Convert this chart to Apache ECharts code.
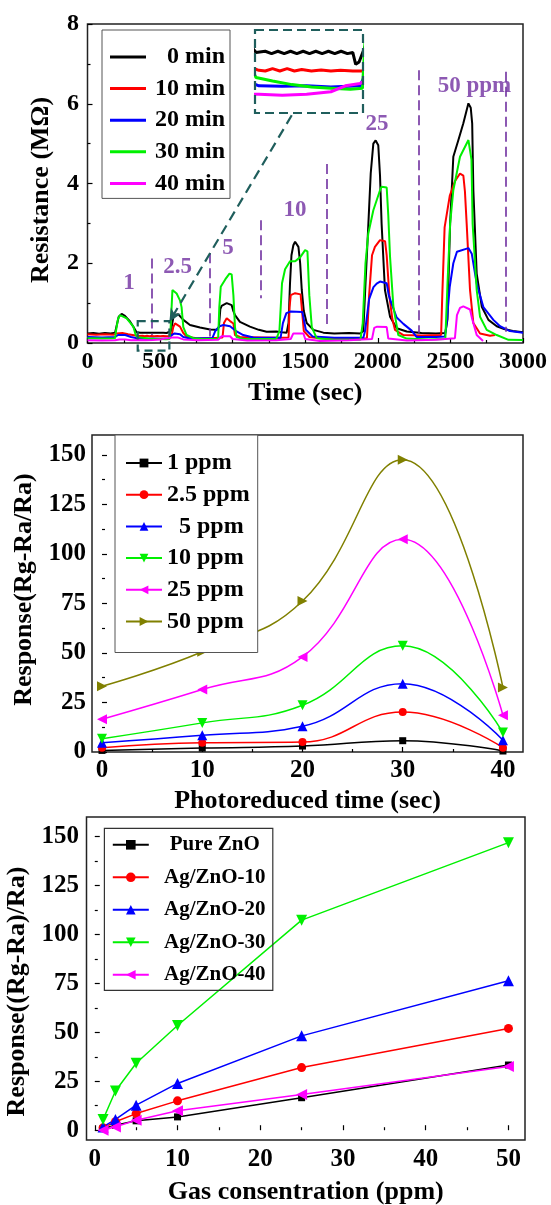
<!DOCTYPE html>
<html>
<head>
<meta charset="utf-8">
<title>Ag/ZnO gas sensor</title>
<script src="https://cdn.jsdelivr.net/npm/echarts@6/dist/echarts.min.js"></script>
<style>
  html, body { margin: 0; padding: 0; background: #fff; }
  #main { width: 551px; height: 1205px; }
</style>
</head>
<body>
<div id="main"></div>
<script>
// ---------- panel 1 : resistance (MOhm) vs time (sec) ----------
var traceNames = ['0 min', '10 min', '20 min', '30 min', '40 min'];
var traceColors = ['#000000', '#ff0000', '#0000ff', '#00f000', '#ff00ff'];

var trace0 = [[0,0.24],[40,0.25],[80,0.23],[120,0.25],[160,0.24],[190,0.26],[205,0.5],[215,0.66],[235,0.73],[258,0.68],[293,0.54],[320,0.38],[338,0.27],[346,0.25],
  [365,0.255],[378,0.245],[391,0.255],[404,0.245],[417,0.255],[430,0.245],[443,0.255],[456,0.245],[469,0.255],[482,0.245],[495,0.255],[508,0.245],[521,0.255],[534,0.245],[545,0.25],[551,0.2],[558,0.21],
  [575,0.3],[590,0.62],[605,0.70],[626,0.72],[660,0.58],[706,0.45],[775,0.39],[844,0.34],[890,0.33],[905,0.4],[915,0.85],[924,0.93],[959,1.0],[993,0.95],[1005,0.8],
  [1016,0.70],[1050,0.53],[1119,0.41],[1180,0.33],[1234,0.28],[1300,0.29],[1340,0.27],[1372,0.26],[1385,0.5],[1395,1.5],[1405,2.2],[1418,2.45],[1430,2.54],[1453,2.41],
  [1465,2.0],[1476,1.33],[1490,0.8],[1510,0.5],[1556,0.33],[1625,0.26],[1700,0.24],[1800,0.25],[1880,0.24],[1900,0.3],[1915,1.5],[1935,3.0],[1951,4.25],[1969,5.0],
  [1985,5.08],[2003,4.96],[2015,4.2],[2026,2.99],[2049,1.33],[2084,0.66],[2130,0.37],[2199,0.29],[2300,0.25],[2400,0.24],[2465,0.25],[2480,0.6],[2490,2.0],[2498,2.99],
  [2520,4.67],[2555,5.09],[2589,5.51],[2624,6.01],[2640,5.9],[2650,5.5],[2658,3.83],[2681,1.74],[2716,0.91],[2762,0.58],[2819,0.42],[2870,0.35],[2930,0.3],[3000,0.27]];

var trace10 = [[0,0.22],[60,0.21],[120,0.22],[180,0.21],[200,0.24],[240,0.25],[280,0.22],[330,0.19],[352,0.175],
  [365,0.172],[380,0.182],[395,0.172],[410,0.182],[425,0.172],[440,0.178],[460,0.172],[480,0.176],[500,0.172],[520,0.175],[545,0.172],[565,0.172],
  [580,0.2],[591,0.4],[603,0.49],[614,0.45],[637,0.41],[660,0.25],[683,0.16],[752,0.12],[850,0.12],[930,0.14],[940,0.5],[959,0.62],[982,0.55],[1005,0.49],
  [1016,0.2],[1050,0.15],[1200,0.14],[1330,0.13],[1385,0.14],[1392,0.9],[1400,1.2],[1430,1.25],[1468,1.22],[1478,0.8],[1490,0.3],[1528,0.15],[1600,0.12],
  [1800,0.11],[1925,0.12],[1940,1.2],[1960,2.2],[1980,2.41],[2015,2.58],[2050,2.55],[2061,2.2],[2080,1.16],[2100,0.6],[2118,0.33],[2176,0.2],[2300,0.19],
  [2436,0.2],[2444,1.2],[2460,2.9],[2496,3.7],[2530,4.05],[2566,4.25],[2589,4.2],[2600,3.8],[2612,2.99],[2635,1.33],[2658,0.5],[2704,0.24],[2773,0.18],[2807,0.2]];

var trace20 = [[0,0.15],[100,0.14],[190,0.15],[210,0.2],[260,0.2],[300,0.15],[352,0.11],[400,0.108],[450,0.11],[500,0.105],[560,0.11],[580,0.2],[600,0.24],
  [637,0.22],[660,0.15],[700,0.12],[860,0.12],[880,0.3],[910,0.42],[936,0.45],[982,0.42],[1027,0.29],[1073,0.2],[1142,0.14],[1330,0.13],[1346,0.5],[1370,0.75],
  [1400,0.79],[1480,0.78],[1495,0.5],[1504,0.33],[1552,0.16],[1700,0.13],[1900,0.13],[1912,0.3],[1940,1.1],[1970,1.4],[1992,1.49],[2015,1.54],[2061,1.5],
  [2075,1.2],[2095,0.98],[2130,0.64],[2176,0.48],[2233,0.31],[2268,0.15],[2400,0.15],[2462,0.16],[2474,0.5],[2495,1.4],[2520,2.0],[2545,2.29],[2624,2.38],
  [2647,2.24],[2681,1.49],[2727,0.9],[2796,0.58],[2842,0.42],[2910,0.3],[3000,0.26]];

var trace30 = [[0,0.12],[100,0.11],[190,0.12],[196,0.3],[210,0.6],[224,0.70],[235,0.73],[270,0.62],[316,0.41],[332,0.2],[346,0.145],[380,0.13],[420,0.115],
  [460,0.105],[500,0.1],[540,0.095],[565,0.1],[573,0.4],[585,1.33],[591,1.3],[614,1.24],[637,1.07],[648,0.9],[660,0.4],[683,0.2],[729,0.12],[800,0.1],[900,0.1],
  [908,0.9],[918,1.41],[950,1.6],[978,1.74],[993,1.72],[1005,1.2],[1016,0.4],[1027,0.15],[1073,0.1],[1300,0.1],[1322,0.3],[1340,1.5],[1361,1.85],[1395,2.05],
  [1431,2.05],[1467,2.16],[1499,2.33],[1515,2.3],[1528,1.2],[1545,0.4],[1579,0.12],[1700,0.08],[1880,0.08],[1896,0.5],[1915,2.0],[1934,2.74],[1969,3.33],
  [2015,3.83],[2026,3.92],[2061,3.9],[2072,3.2],[2084,2.17],[2107,0.92],[2141,0.2],[2199,0.11],[2350,0.09],[2465,0.1],[2480,1.5],[2498,2.99],[2520,3.83],
  [2566,4.67],[2624,5.09],[2635,5.13],[2645,4.6],[2653,2.99],[2681,1.33],[2704,0.66],[2750,0.33],[2819,0.2],[2900,0.08],[3000,0.075]];

var trace40 = [[0,0.07],[100,0.065],[190,0.07],[220,0.09],[260,0.09],[300,0.07],[352,0.075],[400,0.07],[450,0.075],[500,0.085],[530,0.11],[560,0.12],
  [580,0.14],[620,0.14],[660,0.09],[760,0.07],[900,0.08],[924,0.17],[982,0.17],[1000,0.1],[1100,0.06],[1300,0.07],[1400,0.1],[1418,0.24],[1487,0.24],
  [1500,0.1],[1600,0.05],[1800,0.07],[1960,0.1],[1975,0.38],[1995,0.41],[2061,0.4],[2072,0.11],[2200,0.06],[2400,0.08],[2531,0.12],[2545,0.7],[2566,0.88],
  [2589,0.92],[2635,0.84],[2650,0.6],[2681,0.2],[2725,0.05]];

var traces = [trace0, trace10, trace20, trace30, trace40];

// gas injection markers: time, top, bottom (MOhm)
var gasMarkTime = [446, 843, 1194, 1649, 2279, 2884];
var gasMarkTop = [2.12, 2.25, 3.08, 4.49, 6.84, 6.8];
var gasMarkBottom = [0.2, 0.16, 1.12, 0.37, 0.24, 0.28];
var concText = ['1', '2.5', '5', '10', '25', '50 ppm'];
var concTextAt = [[286, 1.51], [620, 1.91], [968, 2.37], [1430, 3.33], [1994, 5.49], [2666, 6.44]];
// zoomed window shown in the inset
var zoomTime = [346, 564];
var zoomRes = [-0.19, 0.55];
var insetRes = [0, 0.34];

// ---------- panel 2 : response vs photoreduced time ----------
var photoTime = [0, 10, 20, 30, 40];
var concNames = ['1 ppm', '2.5 ppm', '5 ppm', '10 ppm', '25 ppm', '50 ppm'];
var resp1 = [0.8, 2.0, 3.0, 5.7, 0.5];
var resp2p5 = [2.2, 4.7, 5.0, 20.2, 2.2];
var resp5 = [4.7, 8.4, 13.0, 34.5, 5.9];
var resp10 = [6.7, 14.7, 23.6, 53.6, 9.8];
var resp25 = [16.5, 31.5, 48.0, 107.4, 18.5];
var resp50 = [33.2, 50.6, 76.2, 147.5, 32.5];
var respByConc = [resp1, resp2p5, resp5, resp10, resp25, resp50];

// ---------- panel 3 : response vs gas concentration ----------
var gasConc = [1, 2.5, 5, 10, 25, 50];
var sampleNames = ['Pure ZnO', 'Ag/ZnO-10', 'Ag/ZnO-20', 'Ag/ZnO-30', 'Ag/ZnO-40'];
var pureZnO = [0.9, 2.6, 4.8, 6.8, 16.6, 33.3];
var agZnO10 = [1.2, 4.3, 8.5, 15.0, 32.0, 52.0];
var agZnO20 = [1.7, 5.5, 12.8, 23.9, 48.2, 76.4];
var agZnO30 = [5.5, 20.0, 34.2, 53.5, 107.3, 146.9];
var agZnO40 = [0.0, 1.7, 5.1, 9.9, 18.3, 32.5];
var respBySample = [pureZnO, agZnO10, agZnO20, agZnO30, agZnO40];

// ticks
var timeTicks = [0, 10, 20, 30, 40];
var timeMinor = [5, 15, 25, 35];
var concTicks = [0, 10, 20, 30, 40, 50];
var concMinor = [5, 15, 25, 35, 45];
var respTicks = [0, 25, 50, 75, 100, 125, 150];
var respMinor = [12.5, 37.5, 62.5, 87.5, 112.5, 137.5];

// ---------- chart ----------
var FONT = '"Liberation Serif", "Times New Roman", serif';
var PURPLE = '#7030a0';
var TEAL = '#1f5e5c';
var markerColors = ['#000000', '#ff0000', '#0000ff', '#00f000', '#ff00ff', '#808000'];
var markerSymbol = ['rect', 'circle', 'triangle', 'triangle', 'triangle', 'triangle'];
var markerRotate = [0, 0, 0, 180, 90, -90];

function txt(size, extra) {
    var s = { fontFamily: FONT, fontWeight: 'bold', fontSize: size, color: '#000' };
    for (var k in extra) s[k] = extra[k];
    return s;
}
function zip(xs, ys) {
    return xs.map(function (x, i) { return [x, ys[i]]; });
}
function plain(v) { return String(v); }

var tickStyle = { inside: true, length: 5, lineStyle: { color: '#000', width: 1.2 } };
var gridBorder = { show: true, borderColor: '#222', borderWidth: 1.5, outerBoundsMode: 'none' };

function mainAxis(grid, min, max, name, gap, labelSize, margin, extra) {
    var a = {
        type: 'value', gridIndex: grid, min: min, max: max,
        name: name, nameLocation: 'middle', nameGap: gap,
        nameTextStyle: txt(26),
        axisLine: { show: false },
        axisTick: JSON.parse(JSON.stringify(tickStyle)),
        axisLabel: txt(labelSize, { margin: margin, formatter: plain }),
        splitLine: { show: false }
    };
    for (var k in extra) a[k] = extra[k];
    return a;
}
function minorAxis(grid, min, max, values, pos) {
    return {
        type: 'value', gridIndex: grid, min: min, max: max, position: pos,
        axisLine: { show: false }, axisLabel: { show: false }, splitLine: { show: false },
        axisTick: { inside: true, length: 3, customValues: values, lineStyle: { color: '#000', width: 1.2 } }
    };
}

var xAxes = [
    mainAxis(0, 0, 3000, 'Time (sec)', 37, 24, 7, {
        interval: 500,
        minorTick: { show: true, splitNumber: 2, length: 3, lineStyle: { color: '#000', width: 1.2 } }
    }),
    mainAxis(1, -1, 42, 'Photoreduced time (sec)', 36, 25, 6, {}),
    mainAxis(2, -1, 52, 'Gas consentration (ppm)', 39, 25, 7, {}),
    { type: 'value', gridIndex: 3, min: zoomTime[0], max: zoomTime[1], show: false },
    minorAxis(1, -1, 42, timeMinor, 'bottom'),
    minorAxis(2, -1, 52, concMinor, 'bottom')
];
xAxes[1].axisLabel.customValues = timeTicks;
xAxes[1].axisTick.customValues = timeTicks;
xAxes[2].axisLabel.customValues = concTicks;
xAxes[2].axisTick.customValues = concTicks;

var yAxes = [
    mainAxis(0, 0, 8, 'Resistance (M\u03A9)', 33, 24, 8.5, {
        interval: 2,
        minorTick: { show: true, splitNumber: 2, length: 3, lineStyle: { color: '#000', width: 1.2 } }
    }),
    mainAxis(1, 0, 160, 'Response(Rg-Ra/Ra)', 54, 25, 6, {}),
    mainAxis(2, -5, 160, 'Response((Rg-Ra)/Ra)', 51.5, 25, 7.5, {}),
    { type: 'value', gridIndex: 3, min: insetRes[0], max: insetRes[1], show: false },
    minorAxis(1, 0, 160, respMinor, 'left'),
    minorAxis(2, -5, 160, respMinor, 'left')
];
yAxes[0].nameTextStyle.padding = [0, 13, 0, 0];
yAxes[1].nameTextStyle.padding = [0, 0, 0, 8];
yAxes[2].nameTextStyle.padding = [0, 26, 0, 0];
yAxes[1].axisLabel.customValues = respTicks;
yAxes[1].axisTick.customValues = respTicks;
yAxes[2].axisLabel.customValues = respTicks;
yAxes[2].axisTick.customValues = respTicks;

var series = [];
// panel 1 main traces
traces.forEach(function (d, i) {
    series.push({
        name: traceNames[i], type: 'line', xAxisIndex: 0, yAxisIndex: 0,
        data: d, symbol: 'none', showSymbol: false,
        lineStyle: { color: traceColors[i], width: 2 },
        itemStyle: { color: traceColors[i] }
    });
});
// panel 1 inset: same traces through zoomed axes
traces.forEach(function (d, i) {
    series.push({
        name: traceNames[i], type: 'line', xAxisIndex: 3, yAxisIndex: 3,
        data: d, symbol: 'none', showSymbol: false, clip: true,
        lineStyle: { color: traceColors[i], width: 3 },
        itemStyle: { color: traceColors[i] }
    });
});
// panel 1 annotations
var markLines = gasMarkTime.map(function (t, i) {
    return [{ coord: [t, gasMarkTop[i]] }, { coord: [t, gasMarkBottom[i]] }];
});
markLines.push([
    { coord: [1407, 5.71], lineStyle: { color: TEAL, width: 2.2, type: [10, 6] } },
    { coord: [zoomTime[1], zoomRes[1] - 0.02], symbol: 'arrow', symbolSize: [9, 13] }
]);
series.push({
    name: 'conc', type: 'scatter', xAxisIndex: 0, yAxisIndex: 0, silent: true,
    data: concTextAt.map(function (p, i) { return [p[0], p[1], concText[i]]; }),
    symbolSize: 1, itemStyle: { color: 'rgba(0,0,0,0)' },
    label: {
        show: true, position: 'inside',
        formatter: function (p) { return p.value[2]; },
        fontFamily: FONT, fontWeight: 'bold', fontSize: 23, color: PURPLE
    },
    markLine: {
        silent: true, symbol: ['none', 'none'], label: { show: false },
        lineStyle: { color: PURPLE, width: 1.6, type: [10, 5] },
        data: markLines
    }
});
// panel 2
respByConc.forEach(function (d, i) {
    series.push({
        name: concNames[i], type: 'line', xAxisIndex: 1, yAxisIndex: 1,
        data: zip(photoTime, d), smooth: 0.45,
        symbol: markerSymbol[i], symbolRotate: markerRotate[i],
        symbolSize: i === 0 ? 7 : (i === 1 ? 8 : 10),
        lineStyle: { color: markerColors[i], width: 1.5 },
        itemStyle: { color: markerColors[i] }
    });
});
// panel 3
respBySample.forEach(function (d, i) {
    series.push({
        name: sampleNames[i], type: 'line', xAxisIndex: 2, yAxisIndex: 2,
        data: zip(gasConc, d),
        symbol: markerSymbol[i], symbolRotate: markerRotate[i],
        symbolSize: i === 0 ? 7 : (i === 1 ? 9 : 11),
        lineStyle: { color: markerColors[i], width: 1.5 },
        itemStyle: { color: markerColors[i] }
    });
});

var option = {
    animation: false,
    backgroundColor: '#fff',
    grid: [
        Object.assign({ left: 87.5, top: 24, width: 435.5, height: 319 }, gridBorder),
        Object.assign({ left: 92, top: 435, width: 431, height: 317 }, gridBorder),
        Object.assign({ left: 86.5, top: 817, width: 438.5, height: 323 }, gridBorder),
        { left: 256, top: 31, width: 106, height: 81, show: false, outerBoundsMode: 'none' }
    ],
    xAxis: xAxes,
    yAxis: yAxes,
    legend: [
        {
            data: traceNames, orient: 'vertical', left: 102, top: 30,
            padding: [15, 5, 3, 8], itemGap: 7.6, itemWidth: 36, itemHeight: 3, icon: 'rect',
            borderColor: '#555', borderWidth: 1, backgroundColor: '#fff',
            formatter: function (n) { return '{r|' + n + '}'; },
            textStyle: txt(24, { lineHeight: 24, rich: { r: txt(24, { width: 74, align: 'right', lineHeight: 24 }) } })
        },
        {
            data: concNames, orient: 'vertical', left: 115, top: 435,
            padding: [16, 8, 19, 10], itemGap: 7.7, itemWidth: 36, itemHeight: 11,
            borderColor: '#555', borderWidth: 1, backgroundColor: '#fff',
            formatter: function (n) { return n === '5 ppm' ? '{i|' + n + '}' : n; },
            textStyle: txt(24, { lineHeight: 24, rich: { i: txt(24, { lineHeight: 24, padding: [0, 0, 0, 12] }) } })
        },
        {
            data: sampleNames, orient: 'vertical', left: 104.4, top: 828.3,
            padding: [6, 6, 5, 7.4], itemGap: 11.5, itemWidth: 36, itemHeight: 12,
            borderColor: '#333', borderWidth: 1.2,
            formatter: function (n) { return '{t|' + n + '}'; },
            textStyle: txt(21, { lineHeight: 21, rich: { t: txt(21, { lineHeight: 21, width: 104, align: 'center', padding: [0, 0, 0, 9] }) } })
        }
    ],
    series: series
};

var chart = echarts.init(document.getElementById('main'), null, { renderer: 'canvas' });
chart.setOption(option);

// dashed boxes: the zoom window in the main plot, and the inset frame
var a = chart.convertToPixel({ xAxisIndex: 0, yAxisIndex: 0 }, [zoomTime[0], zoomRes[1]]);
var b = chart.convertToPixel({ xAxisIndex: 0, yAxisIndex: 0 }, [zoomTime[1], zoomRes[0]]);
var c = chart.convertToPixel({ xAxisIndex: 3, yAxisIndex: 3 }, [zoomTime[0], insetRes[1]]);
var d = chart.convertToPixel({ xAxisIndex: 3, yAxisIndex: 3 }, [zoomTime[1], insetRes[0]]);
chart.setOption({
    graphic: [
        {
            type: 'rect', silent: true, z: 10,
            shape: { x: a[0], y: a[1], width: b[0] - a[0], height: b[1] - a[1] },
            style: { fill: null, stroke: TEAL, lineWidth: 2.2, lineDash: [8, 5] }
        },
        {
            type: 'rect', silent: true, z: 10,
            shape: { x: c[0] - 1, y: c[1] - 1, width: d[0] - c[0] + 2, height: d[1] - c[1] + 2 },
            style: { fill: null, stroke: TEAL, lineWidth: 2.2, lineDash: [9, 5] }
        }
    ]
});

window.addEventListener('resize', function () {
    chart.resize();
});
</script>
</body>
</html>
